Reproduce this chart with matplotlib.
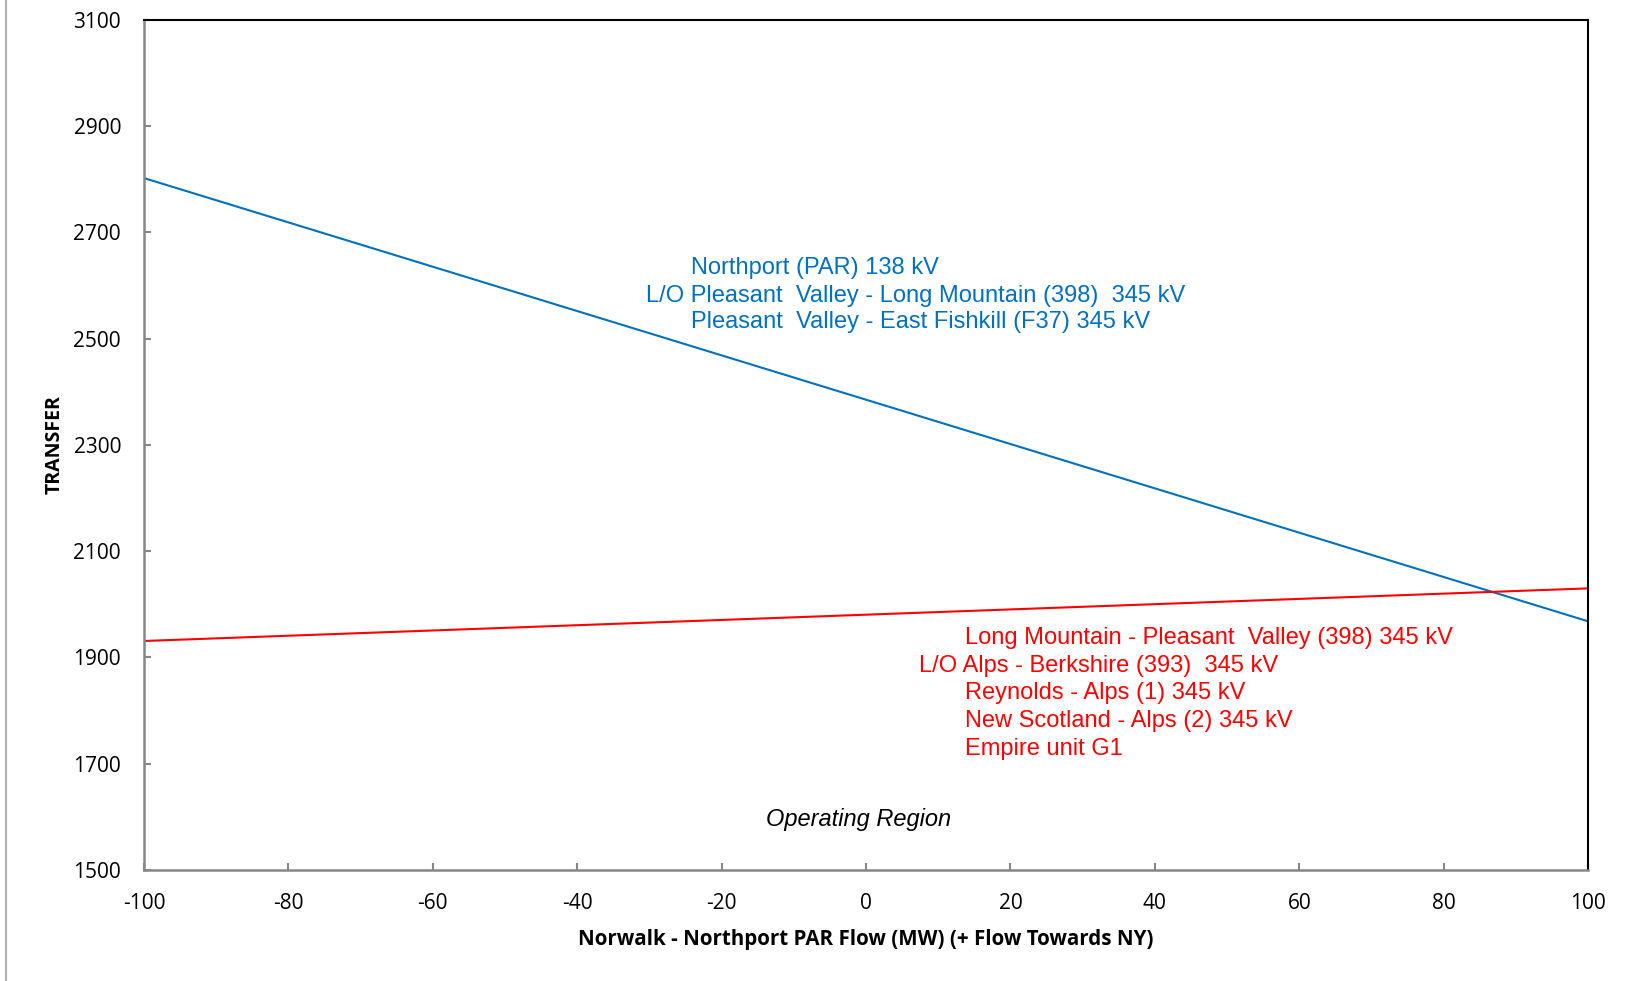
import matplotlib.pyplot as plt
from matplotlib.lines import Line2D

# Transfer limit lines (end points)
par_flow = [-100, 100]
blue_limit = [2802, 1968]
red_limit = [1931, 2030]

blue_labels = [
    "Northport (PAR) 138 kV",
    "L/O Pleasant  Valley - Long Mountain (398)  345 kV",
    "Pleasant  Valley - East Fishkill (F37) 345 kV",
]
red_labels = [
    "Long Mountain - Pleasant  Valley (398) 345 kV",
    "L/O Alps - Berkshire (393)  345 kV",
    "Reynolds - Alps (1) 345 kV",
    "New Scotland - Alps (2) 345 kV",
    "Empire unit G1",
]

x_ticks = list(range(-100, 101, 20))
y_ticks = list(range(1500, 3101, 200))

BLUE = "#0070C0"
RED = "#FF0000"
AXIS_GRAY = "#868686"
TICK_FONT = "Open Sans"
NOTE_FONT = "Liberation Sans"

plt.rcParams["axes.unicode_minus"] = False

fig = plt.figure(figsize=(16.31, 9.81), dpi=100)
ax = fig.add_axes([0.0883, 0.1131, 0.8854, 0.8668])

ax.plot(par_flow, blue_limit, color=BLUE, linewidth=1.5)
ax.plot(par_flow, red_limit, color=RED, linewidth=1.5)

ax.set_xlim(-100, 100)
ax.set_ylim(1500, 3100)
ax.set_xticks(x_ticks)
ax.set_yticks(y_ticks)
ax.tick_params(direction="in", length=5, width=1.5, color=AXIS_GRAY,
               pad=16.5, labelsize=15)
for lbl in ax.get_xticklabels() + ax.get_yticklabels():
    lbl.set_fontfamily(TICK_FONT)

for side in ["left", "bottom"]:
    ax.spines[side].set_color(AXIS_GRAY)
    ax.spines[side].set_linewidth(1.8)
for side in ["top", "right"]:
    ax.spines[side].set_color("black")
    ax.spines[side].set_linewidth(1.5)

ax.set_xlabel("Norwalk - Northport PAR Flow (MW) (+ Flow Towards NY)",
              fontsize=14.8, fontweight="bold", family=TICK_FONT, labelpad=11)
ax.set_ylabel("TRANSFER", fontsize=14, fontweight="bold", family=TICK_FONT,
              labelpad=6.5)

# Constraint notes
blue_x = [0.3786, 0.3476, 0.3786]
blue_y = [0.7085, 0.6756, 0.6440]
for txt, tx, ty in zip(blue_labels, blue_x, blue_y):
    ax.text(tx, ty, txt, transform=ax.transAxes, color=BLUE, fontsize=17,
            family=NOTE_FONT, ha="left", va="center")

red_x = [0.5686, 0.537, 0.5686, 0.5686, 0.5686]
red_y = [0.2728, 0.2405, 0.2083, 0.1754, 0.1425]
for txt, tx, ty in zip(red_labels, red_x, red_y):
    ax.text(tx, ty, txt, transform=ax.transAxes, color=RED, fontsize=17,
            family=NOTE_FONT, ha="left", va="center")

ax.text(0.4945, 0.060, "Operating Region", transform=ax.transAxes,
        fontsize=17, style="italic", family=NOTE_FONT, ha="center", va="center")

# thin frame line at the left edge of the sheet
fig.add_artist(Line2D([0.0037, 0.0037], [0, 1], transform=fig.transFigure,
                      color="#b0b0b0", linewidth=1.5))

fig.savefig("out.png", dpi=100)
